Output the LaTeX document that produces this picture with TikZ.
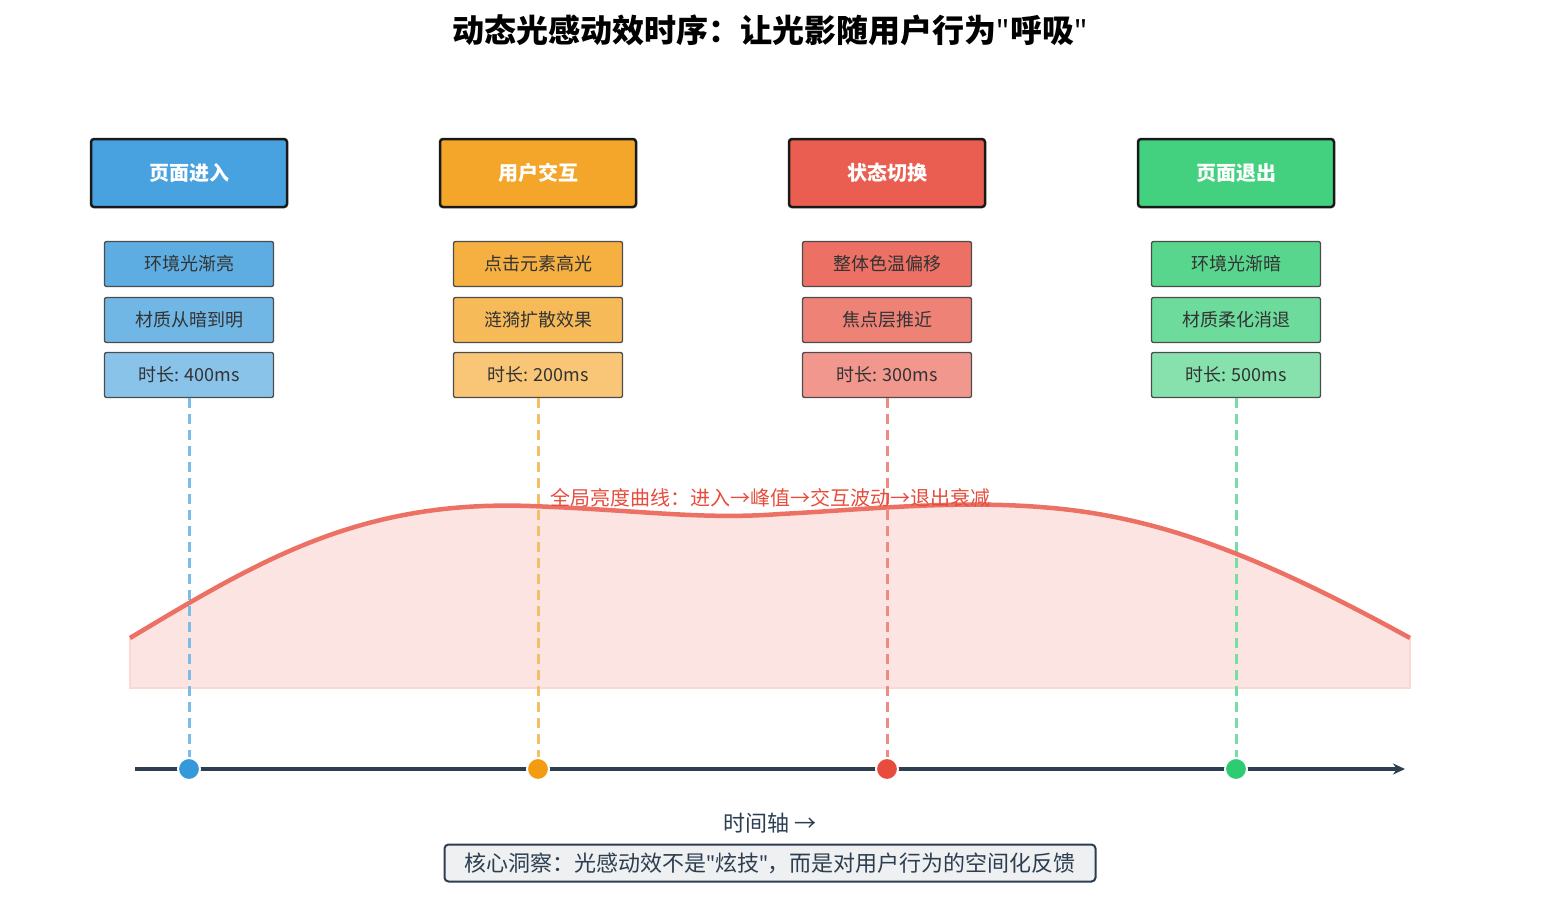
\documentclass[tikz,border=0pt]{standalone}
\usepackage{fontspec}
\setmainfont{Noto Sans CJK SC}
\newfontfamily\qfont{Noto Sans}
\usetikzlibrary{arrows.meta}
\definecolor{cb}{HTML}{3498DB}\definecolor{co}{HTML}{F39C12}\definecolor{cr}{HTML}{E74C3C}\definecolor{cg}{HTML}{2ECC71}
\definecolor{dark}{HTML}{2C3E50}
\newcommand{\q}{{\qfont\char34\relax}}
\begin{document}
\begin{tikzpicture}[x=1pt,y=-1pt,
 head/.style={draw=black!90,line width=2.5pt,rounded corners=3pt,minimum width=196pt,minimum height=68pt,text=white,font=\fontsize{20}{22}\selectfont\bfseries},
 sub/.style={draw=black!70,line width=1.3pt,rounded corners=2pt,minimum width=169pt,minimum height=45pt,text=black!80,font=\fontsize{18}{20}\selectfont},
 vdash/.style={line width=3pt,dash pattern=on 10pt off 6pt},
 dot/.style={circle,draw=white,line width=2pt,minimum size=22pt,inner sep=0pt}]
\useasboundingbox (0,0) rectangle (1541,906);
\node[font=\fontsize{32}{34}\selectfont\bfseries] (title) at (770,30) {动态光感动效时序：让光影随用户行为\q 呼吸\q};
% curve
\fill[cr!15] (130,638) .. controls (260,560) and (360,500) .. (530,506) .. controls (640,510) and (700,520) .. (780,514) .. controls (860,510) and (950,500) .. (1040,507) .. controls (1150,515) and (1250,550) .. (1410,638) -- (1410,688) -- (130,688) -- cycle;
\draw[cr!22!white,line width=1.5pt] (130,638)--(130,688)--(1410,688)--(1410,638);
\foreach \n/\x/\c/\h/\a/\b/\t in {1/189/cb/页面进入/环境光渐亮/材质从暗到明/400ms, 2/538/co/用户交互/点击元素高光/涟漪扩散效果/200ms, 3/887/cr/状态切换/整体色温偏移/焦点层推近/300ms, 4/1236/cg/页面退出/环境光渐暗/材质柔化消退/500ms}{
 \node[head,fill=\c!90!white] (h\n) at (\x,173) {\h};
 \node[sub,fill=\c!80!white] (a\n) at (\x,264) {\a};
 \node[sub,fill=\c!70!white] (b\n) at (\x,320) {\b};
 \node[sub,fill=\c!58!white] (c\n) at (\x,375) {时长: \t};
 \coordinate (p\n) at (\x,769);
 \draw[vdash,\c!65!white] (c\n.south) -- (p\n);
}
\draw[cr!80!white,line width=4.5pt] (130,638) .. controls (260,560) and (360,500) .. (530,506) .. controls (640,510) and (700,520) .. (780,514) .. controls (860,510) and (950,500) .. (1040,507) .. controls (1150,515) and (1250,550) .. (1410,638);
\node[text=cr,font=\fontsize{20}{22}\selectfont] (lbl) at (770,498) {全局亮度曲线：进入→峰值→交互波动→退出衰减};
\coordinate (ax0) at (135,769); \coordinate (ax1) at (1405,769);
\draw[dark,line width=3.5pt,-{Stealth[length=12pt,width=11pt]}] (ax0) -- (ax1);
\foreach \n/\c in {1/cb,2/co,3/cr,4/cg} \node[dot,fill=\c] (d\n) at (p\n) {};
\node[text=dark,font=\fontsize{22}{24}\selectfont] (tl) at (770,823) {时间轴 →};
\node[draw=dark,line width=2pt,fill=dark!8,rounded corners=4pt,minimum width=651pt,minimum height=37pt,text=dark,font=\fontsize{22}{24}\selectfont] (note) at (770,863) {核心洞察：光感动效不是\q 炫技\q ，而是对用户行为的空间化反馈};
\end{tikzpicture}
\end{document}
